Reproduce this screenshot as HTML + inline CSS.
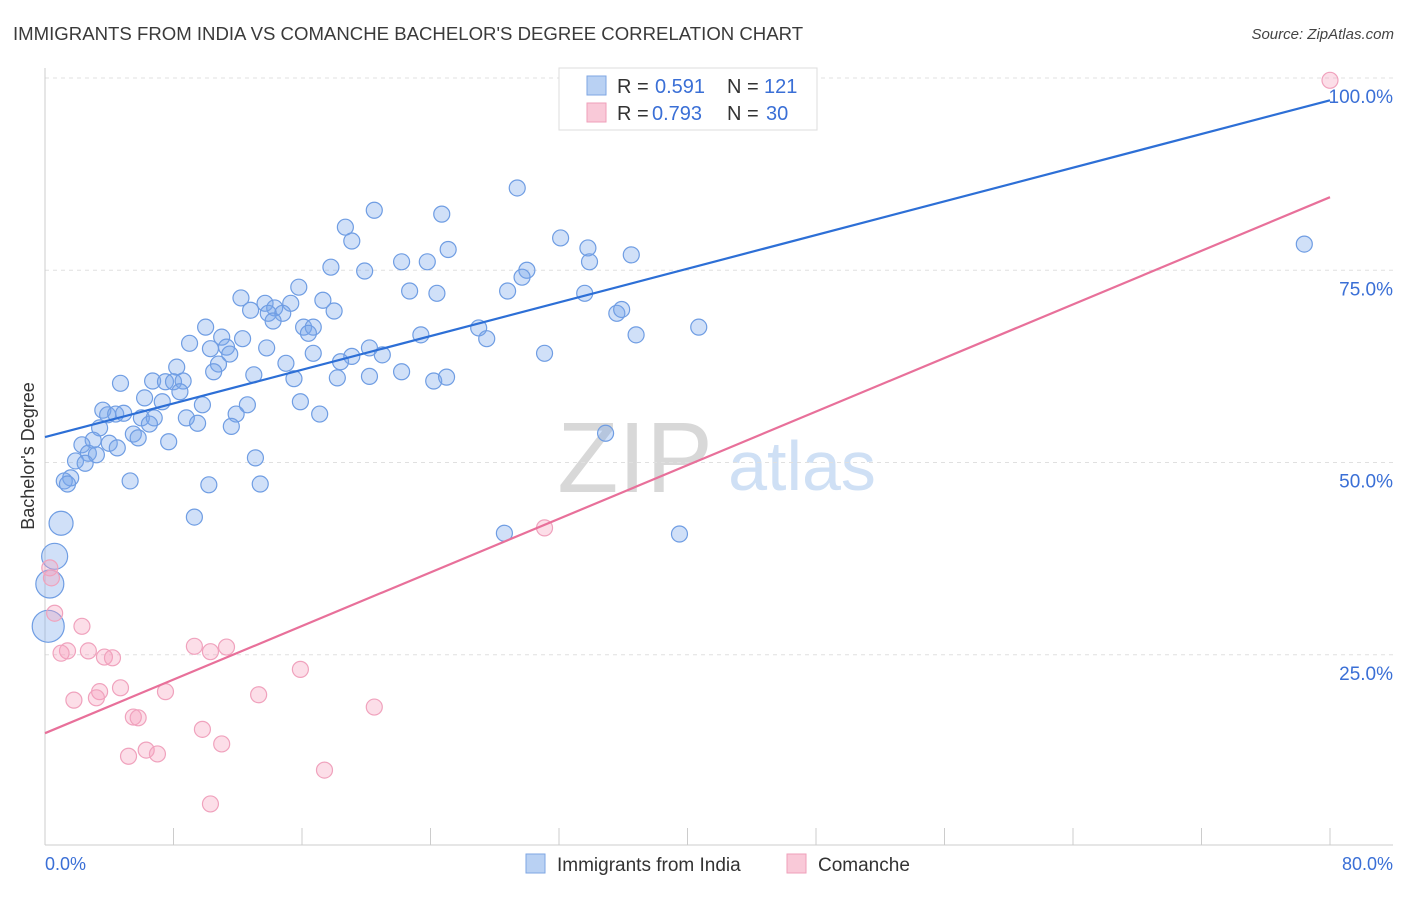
<!DOCTYPE html>
<html><head><meta charset="utf-8">
<style>
body{margin:0;background:#fff;font-family:"Liberation Sans",sans-serif;}
svg text{font-family:"Liberation Sans",sans-serif;}
</style></head>
<body>
<svg id="chart" width="1406" height="892" xmlns="http://www.w3.org/2000/svg">
<text x="13" y="40" font-size="18.6" fill="#3a3a3a">IMMIGRANTS FROM INDIA VS COMANCHE BACHELOR'S DEGREE CORRELATION CHART</text>
<text x="1394" y="39" font-size="15" fill="#444" font-style="italic" text-anchor="end">Source: ZipAtlas.com</text>
<g>
<text x="635" y="492" font-size="100" fill="#d8d8d8" font-family="Liberation Serif" text-anchor="middle">ZIP</text>
<text x="802" y="490" font-size="70" fill="#cfe0f5" text-anchor="middle">atlas</text>
</g>
<g id="grid"></g>
<g id="axes"></g>
<g id="pts"></g>
<g id="lines"></g>
<g>
<rect x="559" y="68" width="258" height="62" fill="#fff" stroke="#ddd"/>
<rect x="587" y="76" width="19" height="19" fill="#b9d1f3" stroke="#7ea6e3"/>
<text x="617" y="93" font-size="20" fill="#333">R =</text>
<text x="655" y="93" font-size="20" fill="#3a6fd6">0.591</text>
<text x="727" y="93" font-size="20" fill="#333">N =</text>
<text x="764" y="93" font-size="20" fill="#3a6fd6">121</text>
<rect x="587" y="103" width="19" height="19" fill="#f9c9d8" stroke="#ef9fba"/>
<text x="617" y="120" font-size="20" fill="#333">R =</text>
<text x="652" y="120" font-size="20" fill="#3a6fd6">0.793</text>
<text x="727" y="120" font-size="20" fill="#333">N =</text>
<text x="766" y="120" font-size="20" fill="#3a6fd6">30</text>
</g>
<text transform="translate(34,456) rotate(-90)" font-size="18" fill="#333" text-anchor="middle">Bachelor's Degree</text>
<text x="45" y="870" font-size="18" fill="#3a6fd6">0.0%</text>
<text x="1393" y="870" font-size="18" fill="#3a6fd6" text-anchor="end">80.0%</text>
<g>
<rect x="526" y="854" width="19" height="19" fill="#b9d1f3" stroke="#7ea6e3"/>
<text x="557" y="871" font-size="19" fill="#333">Immigrants from India</text>
<rect x="787" y="854" width="19" height="19" fill="#f9c9d8" stroke="#ef9fba"/>
<text x="818" y="871" font-size="19" fill="#333">Comanche</text>
</g>
</svg>
<script>
const yTicks=[25,50,75,100];
const yTickLabels=["25.0%","50.0%","75.0%","100.0%"];
const xTicks=[0,8,16,24,32,40,48,56,64,72,80];
const indiaX=[29.4,20.5,18.7,19.1,24.7,32.1,33.8,25.1,36.5,33.9,22.2,23.8,17.8,19.9,30.0,29.7,15.8,22.7,24.4,28.8,33.6,12.2,17.3,13.7,15.3,12.8,14.3,14.8,13.9,18.0,35.6,35.9,14.2,10.0,16.1,16.7,40.7,27.0,11.0,16.4,23.4,36.8,12.3,27.5,9.0,10.3,11.3,13.8,20.2,11.5,16.7,19.1,21.0,31.1,15.0,18.4,10.8,8.2,10.5,13.0,20.2,22.2,4.7,6.7,7.5,8.0,8.6,15.5,18.2,24.2,25.0,8.4,6.2,7.3,9.8,12.6,15.9,3.6,3.9,4.4,4.9,11.9,17.1,6.0,6.8,8.8,9.5,6.5,11.6,3.4,5.5,5.8,3.0,2.3,4.0,7.7,4.5,2.7,3.2,34.9,1.9,2.5,13.1,1.6,1.2,1.4,5.3,10.2,13.4,9.3,28.6,39.5,78.4,1.0,0.6,0.3,0.2];
const indiaY=[85.7,82.8,80.6,78.8,82.3,79.2,77.9,77.7,77.0,76.1,76.1,76.1,75.4,74.9,75.0,74.1,72.8,72.3,72.0,72.3,72.0,71.4,71.1,70.7,70.7,69.8,70.1,69.4,69.4,69.7,69.4,69.9,68.4,67.6,67.6,67.6,67.6,67.5,66.3,66.8,66.6,66.6,66.1,66.1,65.5,64.8,65.0,64.9,64.9,64.1,64.2,63.8,64.0,64.2,62.9,63.1,62.8,62.4,61.8,61.4,61.2,61.8,60.3,60.6,60.5,60.5,60.6,60.9,61.0,60.6,61.1,59.2,58.4,57.9,57.5,57.5,57.9,56.8,56.2,56.3,56.4,56.3,56.3,55.8,55.8,55.8,55.1,55.0,54.7,54.5,53.7,53.2,52.9,52.3,52.5,52.7,51.9,51.2,51.0,53.8,50.2,49.9,50.6,48.0,47.6,47.2,47.6,47.1,47.2,42.9,40.8,40.7,78.4,42.1,37.8,34.2,28.7];
const indiaBig=[[1.0,42.1,12],[0.6,37.8,13],[0.3,34.2,14],[0.2,28.7,16]];
const comX=[80.0,31.1,0.3,0.4,0.6,2.3,1.4,1.0,2.7,3.7,4.2,9.3,11.3,10.3,15.9,4.7,3.4,3.2,1.8,7.5,13.3,20.5,5.5,5.8,9.8,11.0,6.3,7.0,5.2,17.4,10.3];
const comY=[99.7,41.5,36.3,35.0,30.4,28.7,25.5,25.2,25.5,24.7,24.6,26.1,26.0,25.4,23.1,20.7,20.2,19.4,19.1,20.2,19.8,18.2,16.9,16.8,15.3,13.4,12.6,12.1,11.8,10.0,5.6];
const indiaTrend=[53.3,97.1];
const comTrend=[14.8,84.5];
const NS="http://www.w3.org/2000/svg";
const sx=v=>45+v*(1285/80);
const sy=v=>847-v*7.69;
function mk(tag,attrs,parent){const e=document.createElementNS(NS,tag);for(const k in attrs)e.setAttribute(k,attrs[k]);document.getElementById(parent).appendChild(e);return e;}
yTicks.forEach((t,i)=>{
 const g=mk('line',{x1:45,x2:1393,y1:sy(t),y2:sy(t),stroke:'#e0e0e0','stroke-dasharray':'4,4'},'grid');
 
 
 const l=mk('text',{x:1393,y:sy(t)+25,'font-size':19,fill:'#3a6fd6','text-anchor':'end'},'grid');
 l.textContent=yTickLabels[i];
 
 
});
const ya=mk('line',{x1:45,x2:45,y1:68,y2:845,stroke:'#ccc'},'axes');


const xa=mk('line',{x1:45,x2:1393,y1:845,y2:845,stroke:'#ccc'},'axes');


xTicks.forEach(t=>{
 const tk=mk('line',{x1:sx(t),x2:sx(t),y1:828,y2:845,stroke:'#ccc'},'axes');
 
 
});
indiaX.forEach((x,i)=>{let r=8;indiaBig.forEach(b=>{if(b[0]===x&&b[1]===indiaY[i])r=b[2];});
 const c=mk('circle',{cx:sx(x),cy:sy(indiaY[i]),r:r,fill:'rgba(120,165,235,0.35)',stroke:'#6f9de3','stroke-width':1.2},'pts');
 
 
});
comX.forEach((x,i)=>{
 const c=mk('circle',{cx:sx(x),cy:sy(comY[i]),r:8,fill:'rgba(245,160,190,0.35)',stroke:'#f0a2bd','stroke-width':1.2},'pts');
 
 
});
const l1=mk('line',{x1:sx(0),y1:sy(indiaTrend[0]),x2:sx(80),y2:sy(indiaTrend[1]),stroke:'#2d6fd6','stroke-width':2.2},'lines');


const l2=mk('line',{x1:sx(0),y1:sy(comTrend[0]),x2:sx(80),y2:sy(comTrend[1]),stroke:'#e8709a','stroke-width':2.2},'lines');


</script>
</body></html>
